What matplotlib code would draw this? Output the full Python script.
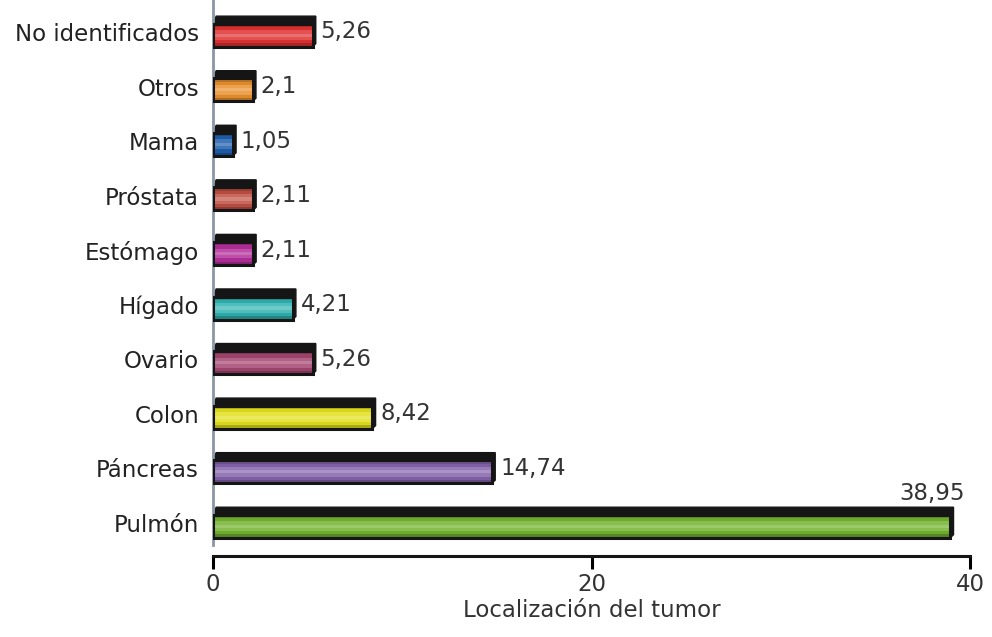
import numpy as np
import matplotlib.pyplot as plt
from matplotlib.colors import to_rgb

categorias = ["Pulmón", "Páncreas", "Colon", "Ovario", "Hígado",
              "Estómago", "Próstata", "Mama", "Otros", "No identificados"]
valores = [38.95, 14.74, 8.42, 5.26, 4.21, 2.11, 2.11, 1.05, 2.1, 5.26]
etiquetas = ["38,95", "14,74", "8,42", "5,26", "4,21",
             "2,11", "2,11", "1,05", "2,1", "5,26"]
colores = ["#72b22e", "#8463ab", "#e2e01e", "#a3456f", "#2fb3b0",
           "#b22f9b", "#c04f42", "#1f5fae", "#e8902e", "#e03232"]

plt.rcParams['font.family'] = ['DejaVu Sans']

fig = plt.figure(figsize=(9.92, 6.37), dpi=100)
ax = fig.add_axes([0.2147, 0.1444, 0.7633, 0.8556])

alto = 0.42       # height of the front face
dx, dy = 0.17, 0.14  # depth of the black top band

def mezcla(c, f):
    c = np.array(to_rgb(c))
    if f >= 0:
        return tuple(c + (1 - c) * f)
    return tuple(c * (1 + f))

tonos = [-0.25, -0.05, 0.15, 0.3, 0.15, -0.05, -0.2]

for i, (v, c) in enumerate(zip(valores, colores)):
    y0 = i - 0.27
    y1 = y0 + alto
    # black top/side band
    ax.fill([0, dx, v + dx, v + dx, v, 0],
            [y1, y1 + dy, y1 + dy, y0 + dy * 0.4, y0, y0],
            color="#151515", zorder=2)
    # striped front face
    h = alto / len(tonos)
    for k, t in enumerate(tonos):
        ax.barh(y0 + h * (k + 0.5), v, height=h, left=0,
                color=mezcla(c, t), linewidth=0, zorder=3)
    ax.barh(y0 + alto / 2, v, height=alto, left=0, facecolor="none",
            edgecolor="#151515", linewidth=2.2, zorder=4)

for i, (v, t) in enumerate(zip(valores, etiquetas)):
    if v > 30:
        ax.text(v + dx + 0.6, i + 0.55, t, ha="right", va="center",
                fontsize=16.5, color="#333333", clip_on=False)
    else:
        ax.text(v + dx + 0.25, i, t, ha="left", va="center",
                fontsize=16.5, color="#333333")

ax.set_xlim(0, 40)
ax.set_ylim(-0.403, 9.586)
ax.set_yticks(range(len(categorias)))
ax.set_yticklabels(categorias, fontsize=16.5, color="#222222")
ax.tick_params(axis="y", length=0, pad=10)
ax.set_xticks([0, 20, 40])
ax.tick_params(axis="x", length=9, width=2.2, direction="out",
               labelsize=16.5, labelcolor="#333333", pad=3)
ax.set_xlabel("Localización del tumor", fontsize=16.5, color="#333333",
              labelpad=2)

for s in ["top", "right"]:
    ax.spines[s].set_visible(False)
ax.spines["left"].set_color("#8c97a6")
ax.spines["left"].set_linewidth(2)
ax.spines["bottom"].set_position(("outward", 8))
ax.spines["bottom"].set_linewidth(2.2)
ax.spines["bottom"].set_color("#151515")

fig.savefig("out.png", dpi=100)
